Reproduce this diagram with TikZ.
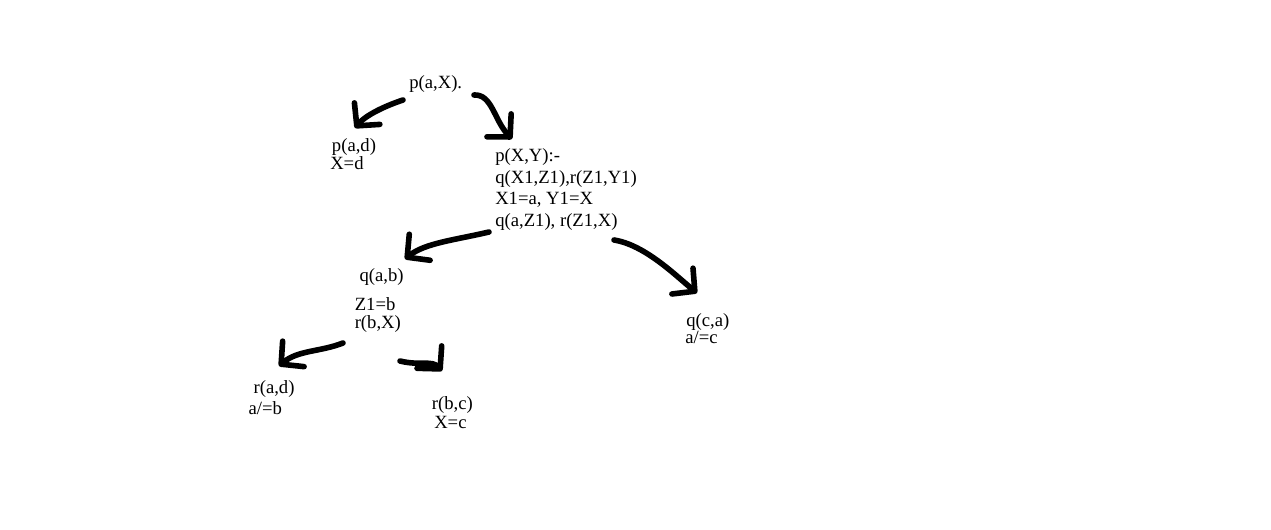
\documentclass[tikz,border=0pt]{standalone}
\usepackage{fontspec}
\setmainfont{Liberation Serif}
\usetikzlibrary{arrows.meta}
\tikzset{
  goal/.style={anchor=base west,inner sep=0pt,align=left,font=\fontsize{14}{13.7}\selectfont},
  hand/.style={line width=4.2pt,line cap=round,line join=round,-{Straight Barb[length=12pt,width=25pt,round]}}
}
\begin{document}
\begin{tikzpicture}[x=0.75pt,y=0.75pt]
\fill[white] (0,0) rectangle (1271,-530);
\useasboundingbox (0,0) rectangle (1271,-530);
% goals and bindings (multi-line nodes sit on their last baseline)
\node[goal] (root) at (409,-88.3) {p(a,X).};
\node[goal] (fact) at (331.7,-151.7) {p(a,d)};
\node[goal] (factb) at (330,-170) {X=d};
\node[goal] (rule) at (495,-226.7) {p(X,Y):-\\[2.6pt]q(X1,Z1),r(Z1,Y1)\\[2.6pt]X1=a, Y1=X\\[2.6pt]q(a,Z1), r(Z1,X)};
\node[goal] (sub) at (359.3,-281.7) {q(a,b)};
\node[goal] (subb) at (354.5,-328.3) {Z1=b\\r(b,X)};
\node[goal] (rad) at (253.3,-393.3) {r(a,d)};
\node[goal] (radb) at (248.3,-415) {a/=b};
\node[goal] (rbc) at (431.7,-410) {r(b,c)};
\node[goal] (rbcb) at (434,-428.3) {X=c};
\node[goal] (qca) at (686,-326.7) {q(c,a)};
\node[goal] (qcab) at (685,-344) {a/=c};
% free ends of the hand drawn arrows
\coordinate (r1) at (403,-100); \coordinate (f1) at (355,-128);
\coordinate (r2) at (474,-95);  \coordinate (f2) at (512,-139);
\coordinate (u1) at (489,-232); \coordinate (g1) at (405,-259);
\coordinate (u2) at (614,-240); \coordinate (g2) at (697,-293);
\coordinate (b1) at (343,-343); \coordinate (h1) at (279,-366);
\coordinate (b2) at (400,-361); \coordinate (h2) at (442,-371);
\draw[hand] (r1) .. controls (385,-106) and (366,-115) .. (f1);
\draw[hand] (r2) .. controls (492,-94) and (494,-120) .. (f2);
\draw[hand] (u1) .. controls (455,-240) and (425,-243) .. (g1);
\draw[hand] (u2) .. controls (645,-245) and (675,-275) .. (g2);
\draw[hand] (b1) .. controls (320,-352) and (298,-350) .. (h1);
\draw[hand] (b2) .. controls (420,-366) and (432,-360) .. (h2);
\end{tikzpicture}
\end{document}
